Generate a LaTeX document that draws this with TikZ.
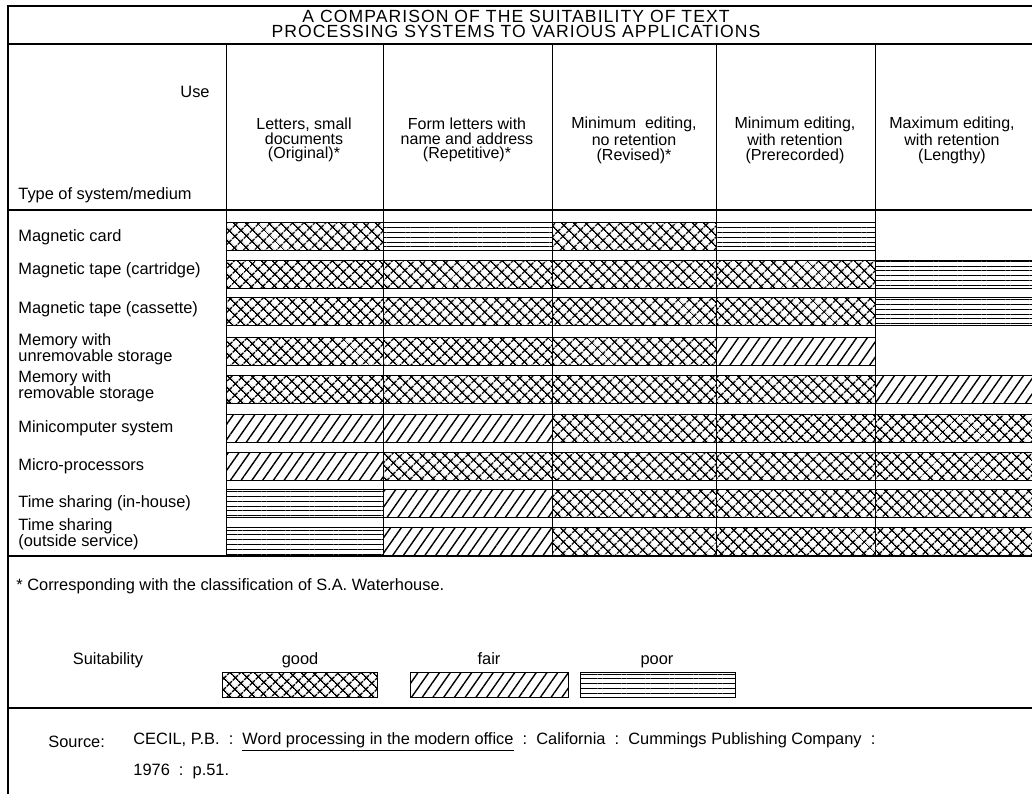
\documentclass[tikz,border=0pt]{standalone}
\usepackage{fontspec}
\setmainfont{Liberation Sans}
\newfontfamily\titlefont[LetterSpace=6]{Liberation Sans}
\usetikzlibrary{patterns.meta}
\tikzset{
  cellgood/.style={draw, line width=0.4pt, pattern={Hatch[angle=45,distance=4pt,line width=0.8pt]}},
  cellfair/.style={draw, line width=0.4pt, pattern={Lines[angle=55,distance=4.4pt,line width=0.7pt]}},
  cellpoor/.style={draw, line width=0.4pt, pattern={Lines[angle=0,distance=2.4pt,line width=0.5pt]}},
  cellnone/.style={},
  rule/.style={line width=0.7pt},
  sidelabel/.style={anchor=west, align=left, inner sep=0pt, font=\fontsize{8.2}{8}\selectfont},
  colhead/.style={align=center, inner sep=0pt, font=\fontsize{8}{7.4}\selectfont},
  plaintext/.style={inner sep=0pt, font=\fontsize{8.2}{9}\selectfont},
}

\begin{document}
\begin{tikzpicture}[x=0.5pt, y=-0.5pt]
  \useasboundingbox (0,0) rectangle (1032,794);

  % frame and rules
  \draw[rule] (8,794) -- (8,6) -- (1032,6);
  \draw[rule] (8,44) -- (1032,44);
  \draw[rule] (8,210) -- (1032,210);
  \draw[rule] (8,556) -- (1032,556);
  \draw[rule] (8,708) -- (1032,708);

  % title
  \node[align=center, inner sep=0pt, font=\titlefont\fontsize{8.8}{7.4}\selectfont] (title) at (516,24)
    {A COMPARISON OF THE SUITABILITY OF TEXT\\PROCESSING SYSTEMS TO VARIOUS APPLICATIONS};

  % header
  \node[plaintext, anchor=east] (use) at (210,92) {Use};
  \node[plaintext, anchor=west] (type) at (18,195) {Type of system/medium};
  \node[colhead] (hdA) at (304,140) {Letters, small\\documents\\(Original)*};
  \node[colhead] (hdB) at (467,140) {Form letters with\\name and address\\(Repetitive)*};
  \node[colhead] (hdC) at (634,140) {Minimum \ editing,\\no retention\\(Revised)*};
  \node[colhead] (hdD) at (795,140) {Minimum editing,\\with retention\\(Prerecorded)};
  \node[colhead] (hdE) at (952,140) {Maximum editing,\\with retention\\(Lengthy)};

  % systems
  \node[sidelabel] (card)  at (18,237) {Magnetic card};
  \node[sidelabel] (cart)  at (18,270) {Magnetic tape (cartridge)};
  \node[sidelabel] (cass)  at (18,309) {Magnetic tape (cassette)};
  \node[sidelabel] (unrem) at (18,349) {Memory with\\unremovable storage};
  \node[sidelabel] (rem)   at (18,386) {Memory with\\removable storage};
  \node[sidelabel] (mini)  at (18,428) {Minicomputer system};
  \node[sidelabel] (micro) at (18,466) {Micro-processors};
  \node[sidelabel] (tsin)  at (18,503) {Time sharing (in-house)};
  \node[sidelabel] (tsout) at (18,534) {Time sharing\\(outside service)};

  % ratings
  \def\colx{{226,383,552,716,875,1032}}
  \foreach \ytop/\cells in {222/{good,poor,good,poor,none}, 260/{good,good,good,good,poor},
      297/{good,good,good,good,poor}, 337/{good,good,good,fair,none}, 375/{good,good,good,good,fair},
      414/{fair,fair,good,good,good}, 452/{fair,good,good,good,good}, 489/{poor,fair,good,good,good},
      527/{poor,fair,good,good,good}}
    \foreach \kind [count=\j from 0] in \cells {
      \pgfmathsetmacro\xa{\colx[\j]}
      \pgfmathsetmacro\xb{\colx[\j+1]}
      \path[cell\kind] (\xa,\ytop) rectangle (\xb,\ytop+28);
    }
  \foreach \x in {226,383,552,716,875}
    \draw[line width=0.5pt] (\x,44) -- (\x,556);

  % footnote
  \node[plaintext, anchor=west] (note) at (16,586)
    {* Corresponding with the classification of S.A. Waterhouse.};

  % key
  \node[plaintext, anchor=base] (suit) at (108,664) {Suitability};
  \node[plaintext, anchor=base] (good) at (300,664) {good};
  \node[plaintext, anchor=base] (fair) at (489,664) {fair};
  \node[plaintext, anchor=base] (poor) at (657,664) {poor};
  \path[cellgood] (222,672) rectangle (377,697);
  \path[cellfair] (410,672) rectangle (568,697);
  \path[cellpoor] (580,672) rectangle (735,697);

  % source
  \node[plaintext, anchor=west] (src) at (48,742) {Source:};
  \node[plaintext, anchor=west] (ref) at (133,742)
    {CECIL, P.B.~~:~~\underline{Word processing in the modern office}~~:~~California~~:~~Cummings Publishing Company~~:};
  \node[plaintext, anchor=west] (year) at (133,771) {1976~~:~~p.51.};
\end{tikzpicture}
\end{document}
